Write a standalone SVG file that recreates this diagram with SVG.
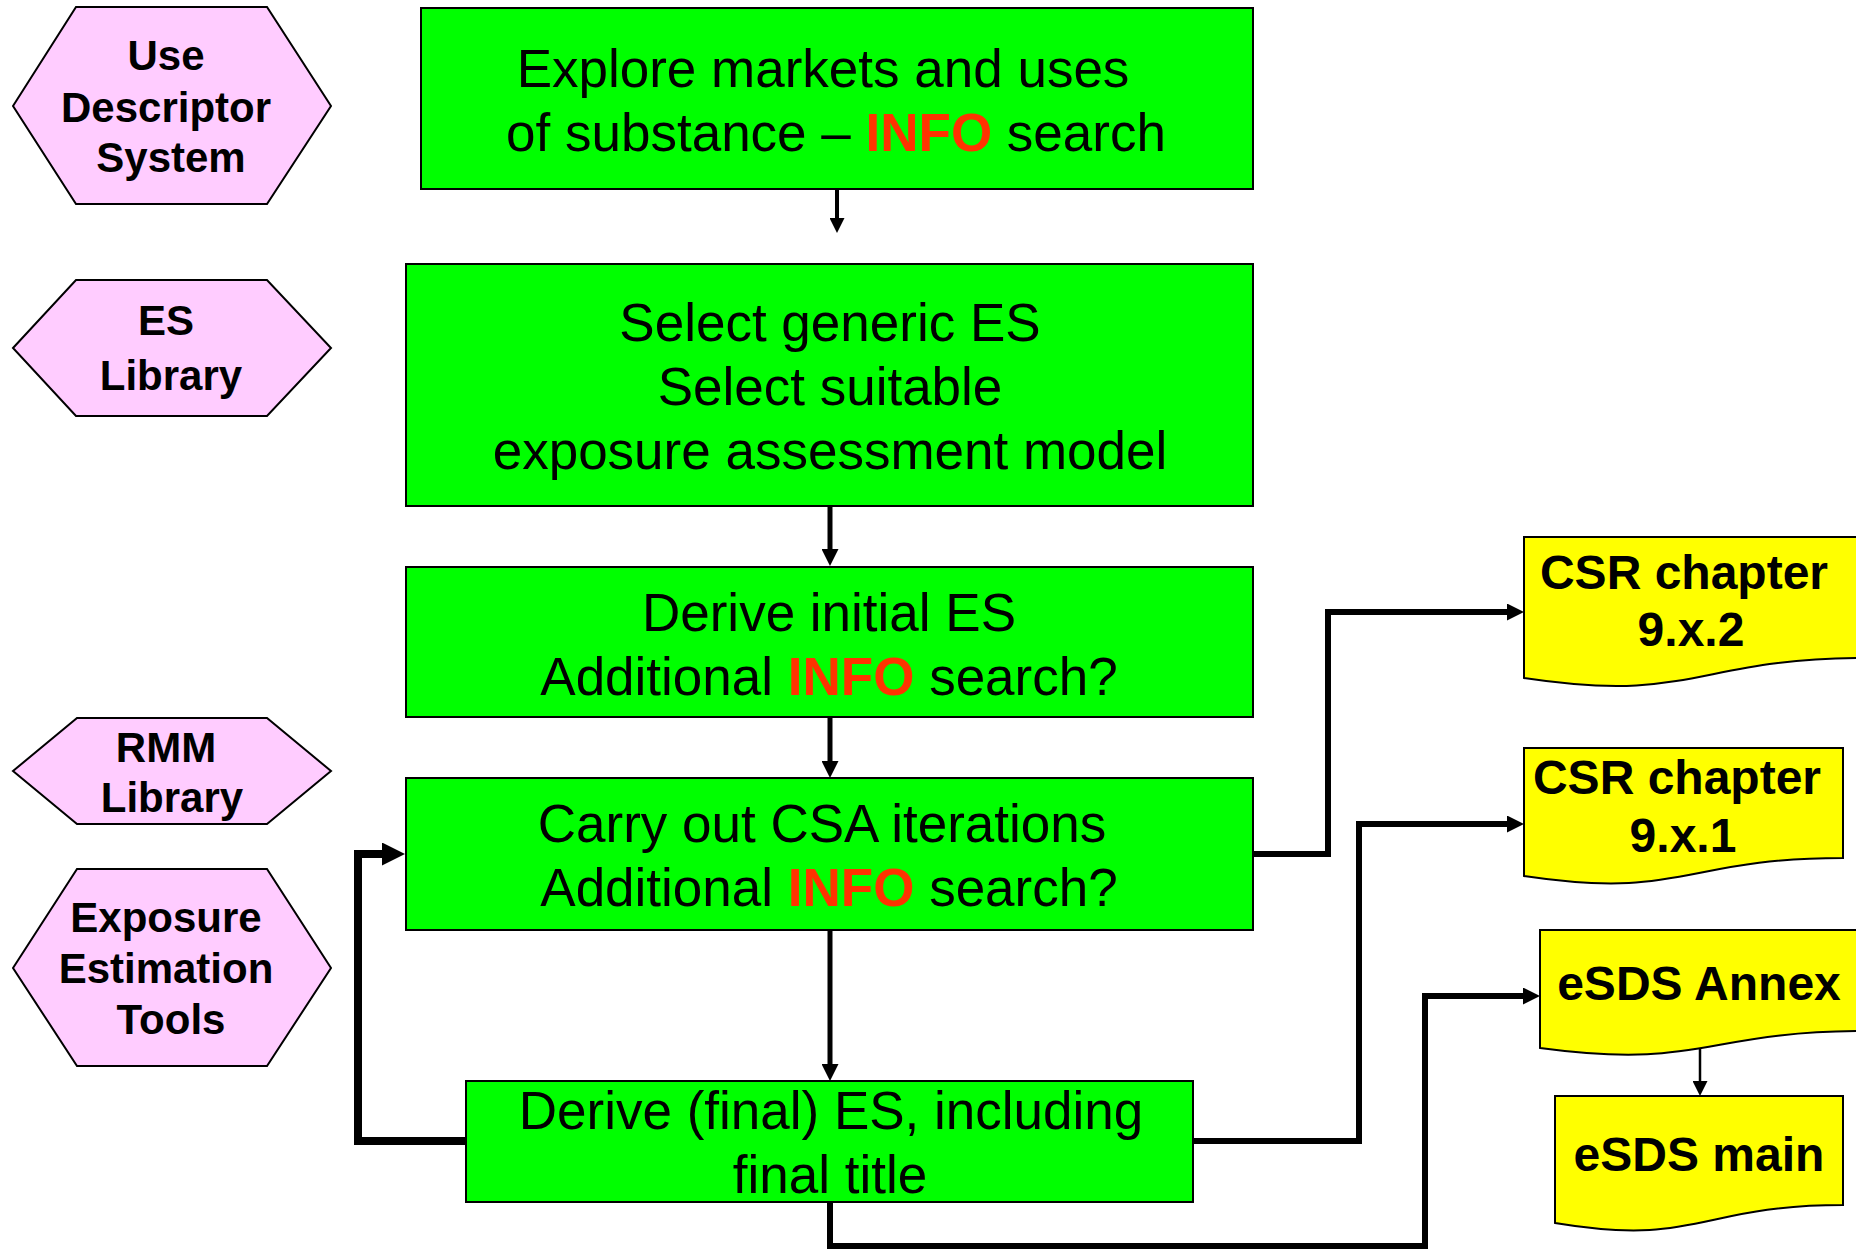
<svg xmlns="http://www.w3.org/2000/svg" width="1856" height="1249" viewBox="0 0 1856 1249">
<style>
.hex{fill:#FFCCFF;stroke:#000;stroke-width:2}
.box{fill:#00FF00;stroke:#000;stroke-width:2}
.doc{fill:#FFFF00;stroke:#000;stroke-width:2}
.ht{font-family:"Liberation Sans",Arial,sans-serif;font-weight:bold;font-size:42px;fill:#000;text-anchor:middle}
.bt{font-family:"Liberation Sans",Arial,sans-serif;font-size:53px;fill:#000;text-anchor:middle}
.dt{font-family:"Liberation Sans",Arial,sans-serif;font-weight:bold;font-size:48px;fill:#000;text-anchor:middle}
.info{fill:#FF3300;font-weight:bold}
.c{fill:none;stroke:#000;stroke-linejoin:miter;stroke-linecap:butt}
</style>
<defs>
<marker id="a15" markerUnits="userSpaceOnUse" markerWidth="15" markerHeight="15" refX="0" refY="7.5" orient="auto"><path d="M0,0 L15,7.5 L0,15 z" fill="#000"/></marker>
<marker id="a17" markerUnits="userSpaceOnUse" markerWidth="17" markerHeight="17" refX="0" refY="8.5" orient="auto"><path d="M0,0 L17,8.5 L0,17 z" fill="#000"/></marker>
<marker id="a23" markerUnits="userSpaceOnUse" markerWidth="23" markerHeight="23" refX="0" refY="11.5" orient="auto"><path d="M0,0 L23,11.5 L0,23 z" fill="#000"/></marker>
</defs>
<rect width="1856" height="1249" fill="#fff"/>

<g id="connectors">
<path class="c" style="stroke-width:4" d="M837,189 V218" marker-end="url(#a15)"/>
<path class="c" style="stroke-width:5" d="M830,506 V549" marker-end="url(#a17)"/>
<path class="c" style="stroke-width:5" d="M830,717 V761" marker-end="url(#a17)"/>
<path class="c" style="stroke-width:5" d="M830,930 V1064" marker-end="url(#a17)"/>
<path class="c" style="stroke-width:8" d="M466,1141 H358 V854 H382" marker-end="url(#a23)"/>
<path class="c" style="stroke-width:6" d="M1253,854 H1328 V612 H1507" marker-end="url(#a17)"/>
<path class="c" style="stroke-width:6" d="M1193,1141 H1359 V824 H1507" marker-end="url(#a17)"/>
<path class="c" style="stroke-width:6" d="M830,1202 V1246 H1425 V996 H1523" marker-end="url(#a17)"/>
<path class="c" style="stroke-width:2.5" d="M1700,1049 V1081" marker-end="url(#a15)"/>
</g>

<g id="hex-use-descriptor">
<polygon class="hex" points="13,106 76,7 267,7 331,106 267,204 76,204"/>
<text class="ht" x="166" y="70">Use</text>
<text class="ht" x="166" y="122">Descriptor</text>
<text class="ht" x="171" y="172">System</text>
</g>
<g id="hex-es-library">
<polygon class="hex" points="13,348 76,280 267,280 331,348 267,416 76,416"/>
<text class="ht" x="166" y="335">ES</text>
<text class="ht" x="171" y="390">Library</text>
</g>
<g id="hex-rmm-library">
<polygon class="hex" points="13,771 77,718 267,718 331,771 267,824 77,824"/>
<text class="ht" x="166" y="762">RMM</text>
<text class="ht" x="172" y="812">Library</text>
</g>
<g id="hex-exposure-tools">
<polygon class="hex" points="13,968 77,869 267,869 331,968 267,1066 77,1066"/>
<text class="ht" x="166" y="932">Exposure</text>
<text class="ht" x="166" y="983">Estimation</text>
<text class="ht" x="171" y="1034">Tools</text>
</g>

<g id="box-explore">
<rect class="box" x="421" y="8" width="832" height="181"/>
<text class="bt" x="823" y="87">Explore markets and uses</text>
<text class="bt" x="836" y="151">of substance – <tspan class="info">INFO</tspan> search</text>
</g>
<g id="box-select">
<rect class="box" x="406" y="264" width="847" height="242"/>
<text class="bt" x="830" y="341">Select generic ES</text>
<text class="bt" x="830" y="405">Select suitable</text>
<text class="bt" x="830" y="469">exposure assessment model</text>
</g>
<g id="box-derive-initial">
<rect class="box" x="406" y="567" width="847" height="150"/>
<text class="bt" x="829" y="631">Derive initial ES</text>
<text class="bt" x="829" y="695">Additional <tspan class="info">INFO</tspan> search?</text>
</g>
<g id="box-csa">
<rect class="box" x="406" y="778" width="847" height="152"/>
<text class="bt" x="822" y="842">Carry out CSA iterations</text>
<text class="bt" x="829" y="906">Additional <tspan class="info">INFO</tspan> search?</text>
</g>
<g id="box-derive-final">
<rect class="box" x="466" y="1081" width="727" height="121"/>
<text class="bt" x="831" y="1129">Derive (final) ES, including</text>
<text class="bt" x="830" y="1193">final title</text>
</g>

<g id="doc-csr-2">
<path class="doc" d="M1524,537 H1866 V658 C1695,658 1695,704 1524,678 Z"/>
<text class="dt" x="1684" y="589">CSR chapter</text>
<text class="dt" x="1691" y="646">9.x.2</text>
</g>
<g id="doc-csr-1">
<path class="doc" d="M1524,748 H1843 V858 C1683.5,858 1683.5,900 1524,876 Z"/>
<text class="dt" x="1677" y="794">CSR chapter</text>
<text class="dt" x="1683" y="852">9.x.1</text>
</g>
<g id="doc-esds-annex">
<path class="doc" d="M1540,930 H1866 V1031 C1703,1031 1703,1070 1540,1048 Z"/>
<text class="dt" x="1699" y="1000">eSDS Annex</text>
</g>
<g id="doc-esds-main">
<path class="doc" d="M1555,1096 H1843 V1205 C1699,1205 1699,1247 1555,1223 Z"/>
<text class="dt" x="1699" y="1171">eSDS main</text>
</g>
</svg>
